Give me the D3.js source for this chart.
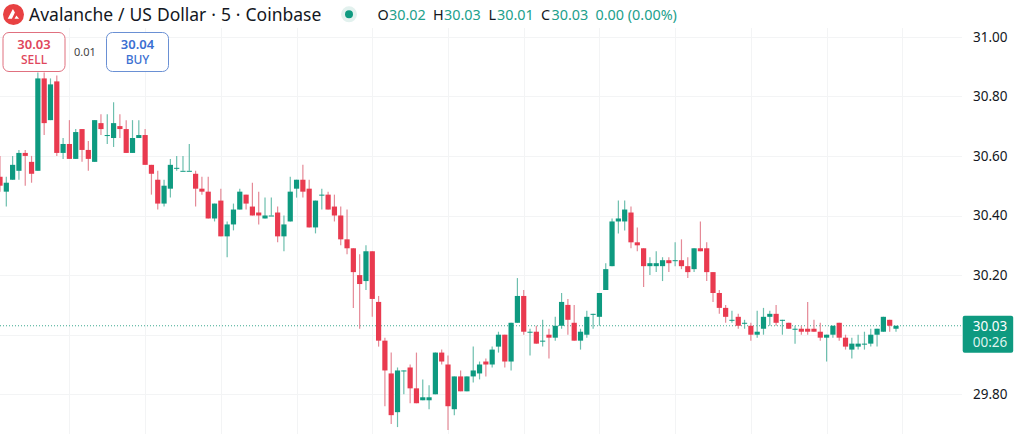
<!DOCTYPE html>
<html>
<head>
<meta charset="utf-8">
<script src="https://cdn.jsdelivr.net/npm/d3@7"></script>
<style>
  html, body { margin: 0; padding: 0; background: #fff; overflow: hidden; }
  text { font-family: "Noto Sans", sans-serif; }
</style>
</head>
<body>
<div id="chart"></div>
<script>
var opens = [30.53,30.48,30.52,30.55,30.61,30.58,30.55,30.86,30.72,30.85,30.61,30.64,30.59,30.69,30.62,30.58,30.71,30.67,30.66,30.70,30.69,30.61,30.66,30.67,30.57,30.52,30.44,30.49,30.56,30.55,
  30.55,30.54,30.49,30.48,30.39,30.45,30.33,30.37,30.42,30.47,30.43,30.41,30.39,30.40,30.41,30.33,30.38,30.49,30.52,30.49,30.36,30.47,30.47,30.43,30.40,30.32,30.29,30.20,30.18,30.28,
  30.11,29.98,29.87,29.74,29.88,29.89,29.82,29.78,29.78,29.80,29.94,29.90,29.75,29.86,29.81,29.86,29.87,29.91,29.90,29.96,30.00,29.91,30.04,30.13,30.01,30.01,29.98,30.00,29.99,30.03,
  30.10,30.04,29.98,30.00,30.07,30.06,30.15,30.23,30.38,30.38,30.41,30.31,30.29,30.23,30.23,30.23,30.25,30.25,30.25,30.23,30.22,30.29,30.29,30.21,30.14,30.09,30.05,30.06,30.04,30.03,
  30.00,30.02,30.06,30.07,30.05,30.04,30.02,30.02,30.02,30.02,30.01,29.99,30.00,30.04,29.99,29.95,29.96,29.97,29.97,30.00,30.01,30.05,30.02];
var highs = [30.60,30.53,30.60,30.62,30.62,30.60,30.88,30.88,30.86,30.87,30.66,30.72,30.69,30.69,30.65,30.72,30.74,30.74,30.78,30.74,30.72,30.72,30.72,30.69,30.57,30.55,30.52,30.59,30.60,30.60,
  30.64,30.55,30.53,30.53,30.44,30.49,30.38,30.44,30.49,30.47,30.51,30.48,30.46,30.46,30.43,30.40,30.53,30.52,30.57,30.52,30.45,30.49,30.48,30.47,30.43,30.42,30.29,30.27,30.30,30.28,
  30.13,29.99,29.94,29.89,29.88,29.90,29.94,29.85,29.83,29.94,29.95,29.93,29.86,29.88,29.86,29.96,29.91,29.92,29.96,30.01,30.00,30.04,30.19,30.15,30.02,30.03,30.05,30.02,30.06,30.14,
  30.12,30.10,30.02,30.08,30.07,30.14,30.24,30.39,30.45,30.45,30.43,30.36,30.29,30.26,30.28,30.26,30.26,30.31,30.32,30.26,30.29,30.38,30.31,30.21,30.15,30.10,30.08,30.07,30.05,30.04,
  30.08,30.09,30.08,30.10,30.05,30.04,30.03,30.03,30.11,30.05,30.04,30.00,30.03,30.04,30.00,29.99,30.00,30.01,30.02,30.02,30.06,30.05,30.03];
var lows = [30.48,30.43,30.52,30.52,30.50,30.51,30.55,30.67,30.72,30.60,30.59,30.59,30.59,30.58,30.55,30.58,30.67,30.64,30.63,30.66,30.61,30.61,30.66,30.57,30.47,30.42,30.43,30.46,30.55,30.55,
  30.55,30.43,30.47,30.39,30.38,30.33,30.26,30.35,30.42,30.42,30.40,30.37,30.39,30.40,30.31,30.28,30.38,30.46,30.46,30.36,30.34,30.42,30.42,30.38,30.30,30.27,30.09,30.02,30.15,30.06,
  29.96,29.76,29.70,29.69,29.80,29.77,29.77,29.78,29.75,29.80,29.90,29.68,29.73,29.81,29.81,29.84,29.85,29.86,29.89,29.94,29.89,29.88,30.04,30.00,29.93,29.97,29.96,29.92,29.98,30.02,
  30.00,29.98,29.95,29.99,30.02,30.03,30.15,30.23,30.34,30.35,30.29,30.28,30.16,30.20,30.21,30.18,30.21,30.23,30.22,30.19,30.21,30.28,30.18,30.11,30.07,30.04,30.04,30.02,30.02,29.98,
  29.99,30.00,30.03,30.03,30.00,30.02,29.97,30.00,30.00,30.01,29.98,29.91,29.99,29.98,29.95,29.92,29.95,29.95,29.96,29.96,30.01,30.01,30.01];
var closes = [30.50,30.51,30.57,30.61,30.60,30.54,30.86,30.71,30.84,30.61,30.64,30.59,30.68,30.62,30.59,30.72,30.69,30.67,30.71,30.69,30.61,30.66,30.67,30.57,30.54,30.44,30.50,30.57,30.56,30.55,
  30.55,30.49,30.48,30.39,30.44,30.33,30.37,30.42,30.48,30.44,30.40,30.40,30.40,30.40,30.33,30.37,30.48,30.52,30.48,30.36,30.45,30.47,30.42,30.40,30.32,30.29,30.21,30.17,30.28,30.12,
  29.98,29.88,29.73,29.88,29.88,29.82,29.77,29.79,29.79,29.94,29.91,29.76,29.86,29.81,29.86,29.88,29.90,29.90,29.95,30.00,29.91,30.04,30.13,30.01,30.01,29.97,29.98,29.99,30.03,30.11,
  30.05,29.98,30.01,30.06,30.07,30.14,30.22,30.38,30.39,30.42,30.31,30.30,30.23,30.24,30.24,30.25,30.24,30.25,30.23,30.21,30.29,30.28,30.21,30.14,30.09,30.06,30.05,30.03,30.04,30.00,
  30.01,30.06,30.07,30.04,30.05,30.02,30.02,30.01,30.01,30.01,29.99,30.00,30.03,29.99,29.96,29.97,29.97,29.97,30.00,30.02,30.06,30.03,30.03];
var priceTicks = [31.00, 30.80, 30.60, 30.40, 30.20, 29.80];
var gridPrices = [31.00, 30.80, 30.60, 30.40, 30.20, 30.00, 29.80];
var lastPrice = 30.03;
var countdown = "00:26";
var title = "Avalanche / US Dollar \u00b7 5 \u00b7 Coinbase";
var ohlcLabels = [
  {k: "O", v: "30.02", kx: 377.5, vx: 389},
  {k: "H", v: "30.03", kx: 433, vx: 444},
  {k: "L", v: "30.01", kx: 488.5, vx: 497},
  {k: "C", v: "30.03", kx: 541, vx: 551.5}
];
var changeLabel = "0.00 (0.00%)";

var width = 1024, height = 434;
var upColor = "#0e9a80", downColor = "#e93a4f";
var upWick = "#6dbfae", downWick = "#e58a97";

var svg = d3.select("#chart").append("svg")
  .attr("width", width)
  .attr("height", height)
  .style("display", "block");

// one candle every 6.31px, the last one sits at x=896
var x = d3.scaleLinear().domain([0, 142]).range([0, 896]);
var y = d3.scaleLinear().domain([31, 29.7]).range([36.7, 424.1]);

var candles = opens.map(function (o, i) {
  return {i: i, o: o, h: highs[i], l: lows[i], c: closes[i]};
});

// grid, vertical lines fall every 12 candles
svg.append("g").selectAll("line")
  .data(gridPrices)
  .enter().append("line")
  .attr("x1", 0).attr("x2", 962)
  .attr("y1", function (d) { return Math.round(y(d)) + 0.5; })
  .attr("y2", function (d) { return Math.round(y(d)) + 0.5; })
  .attr("stroke", "#f3f4f5");

svg.append("g").selectAll("line")
  .data(d3.range(11, 144, 12))
  .enter().append("line")
  .attr("x1", function (d) { return Math.round(x(d)) + 0.5; })
  .attr("x2", function (d) { return Math.round(x(d)) + 0.5; })
  .attr("y1", 28).attr("y2", height)
  .attr("stroke", "#f3f4f5");

// last price line
svg.append("line")
  .attr("x1", 0).attr("x2", 963)
  .attr("y1", y(lastPrice)).attr("y2", y(lastPrice))
  .attr("stroke", "#3ca88f")
  .attr("stroke-width", 1)
  .attr("stroke-dasharray", "1 2");

// wicks first so the bodies sit on top
svg.append("g").selectAll("line")
  .data(candles)
  .enter().append("line")
  .attr("x1", function (d) { return x(d.i); })
  .attr("x2", function (d) { return x(d.i); })
  .attr("y1", function (d) { return y(d.h); })
  .attr("y2", function (d) { return y(d.l); })
  .attr("stroke", function (d) { return d.c >= d.o ? upWick : downWick; })
  .attr("stroke-width", 1.2);

svg.append("g").selectAll("rect")
  .data(candles)
  .enter().append("rect")
  .attr("x", function (d) { return x(d.i) - 2.6; })
  .attr("width", 5.2)
  .attr("y", function (d) { return y(Math.max(d.o, d.c)); })
  .attr("height", function (d) { return Math.max(1, Math.abs(y(d.o) - y(d.c))); })
  .attr("fill", function (d) { return d.c >= d.o ? upColor : downColor; });

// price axis
var axis = d3.axisRight(y)
  .tickValues(priceTicks)
  .tickSize(0)
  .tickFormat(d3.format(".2f"));

var axisG = svg.append("g")
  .attr("transform", "translate(968,0)")
  .call(axis);
axisG.select(".domain").remove();
axisG.selectAll("text")
  .attr("x", 5)
  .attr("fill", "#131722")
  .style("font-size", "13.5px");

// last price tag
svg.append("rect")
  .attr("x", 962.7).attr("y", 315.7)
  .attr("width", 50.5).attr("height", 37)
  .attr("rx", 2)
  .attr("fill", upColor);
svg.append("text")
  .attr("x", 990).attr("y", 331)
  .attr("text-anchor", "middle")
  .attr("fill", "#fff")
  .style("font-size", "13.5px")
  .text(d3.format(".2f")(lastPrice));
svg.append("text")
  .attr("x", 990).attr("y", 347)
  .attr("text-anchor", "middle")
  .attr("fill", "#dff3ee")
  .style("font-size", "13.5px")
  .text(countdown);

// header
var logo = svg.append("g").attr("transform", "translate(13.5,14.5)");
logo.append("circle").attr("r", 10.5).attr("fill", "#e84142");
logo.append("path").attr("d", "M-5.8,4.2 L-0.6,-5.5 L1.4,-2 L-1.6,4.2 Z M1,4.2 L2.9,1 L5.6,4.2 Z").attr("fill", "#fff");

svg.append("text")
  .attr("x", 29).attr("y", 20.5)
  .attr("fill", "#131722")
  .style("font-size", "17.5px")
  .style("word-spacing", "0.4px")
  .text(title);

svg.append("circle").attr("cx", 349).attr("cy", 14.3).attr("r", 8).attr("fill", "#e2f1ee");
svg.append("circle").attr("cx", 349).attr("cy", 14.3).attr("r", 4).attr("fill", upColor);

var ohlc = svg.append("g");
ohlc.selectAll("text.key")
  .data(ohlcLabels)
  .enter().append("text")
  .attr("class", "key")
  .attr("x", function (d) { return d.kx; })
  .attr("y", 19.5)
  .attr("fill", "#131722")
  .style("font-size", "14.4px")
  .text(function (d) { return d.k; });
ohlc.selectAll("text.val")
  .data(ohlcLabels)
  .enter().append("text")
  .attr("class", "val")
  .attr("x", function (d) { return d.vx; })
  .attr("y", 19.5)
  .attr("fill", "#22a08b")
  .style("font-size", "14.4px")
  .text(function (d) { return d.v; });
svg.append("text")
  .attr("x", 595.5).attr("y", 19.5)
  .attr("fill", "#22a08b")
  .style("font-size", "14.4px")
  .text(changeLabel);

// sell / buy buttons
function tradeButton(bx, price, word, stroke, color) {
  svg.append("rect")
    .attr("x", bx).attr("y", 32.5)
    .attr("width", 62).attr("height", 39)
    .attr("rx", 6)
    .attr("fill", "#fff")
    .attr("stroke", stroke);
  svg.append("text")
    .attr("x", bx + 31).attr("y", 48.5)
    .attr("text-anchor", "middle")
    .attr("fill", color)
    .style("font-size", "13px")
    .style("font-weight", "600")
    .text(price);
  svg.append("text")
    .attr("x", bx + 31).attr("y", 64)
    .attr("text-anchor", "middle")
    .attr("fill", color)
    .style("font-size", "12px")
    .style("font-weight", "500")
    .text(word);
}
tradeButton(3, "30.03", "SELL", "#e0707f", "#e0465c");
tradeButton(106.5, "30.04", "BUY", "#6a90d4", "#3b6fd2");
svg.append("text")
  .attr("x", 85).attr("y", 56)
  .attr("text-anchor", "middle")
  .attr("fill", "#444")
  .style("font-size", "11px")
  .text("0.01");
</script>
</body>
</html>
